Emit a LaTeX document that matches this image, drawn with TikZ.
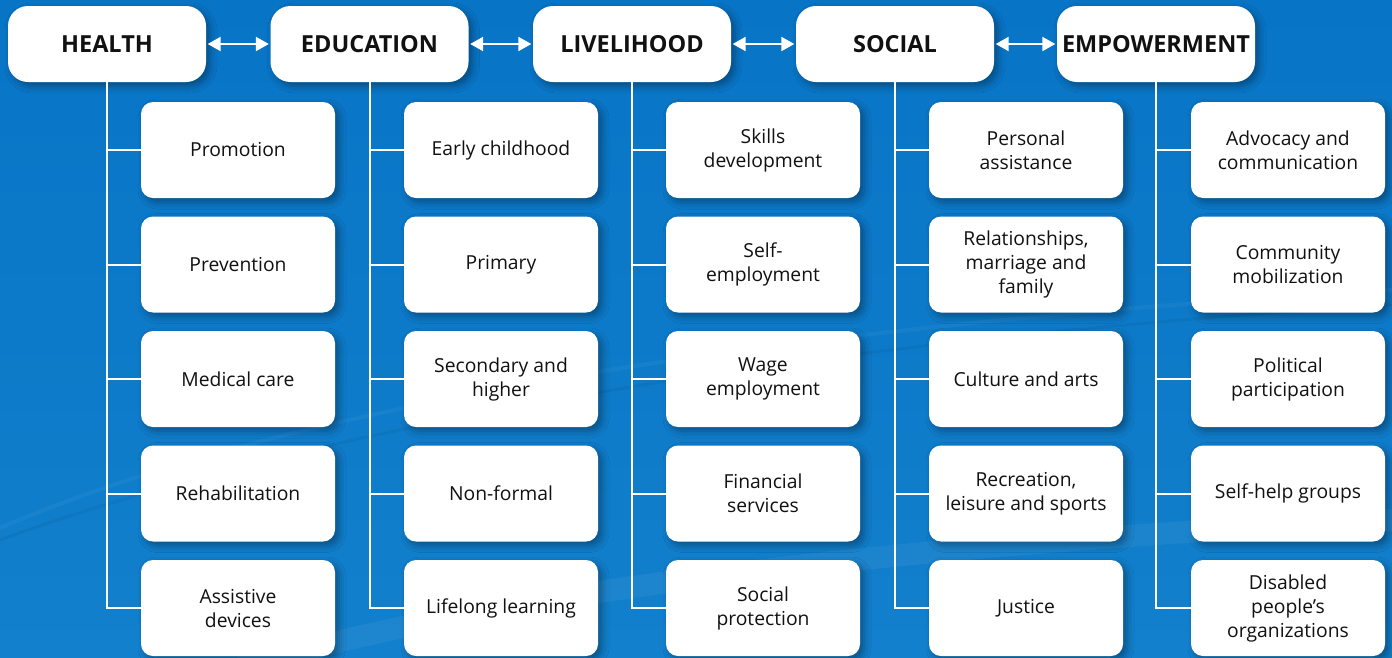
\documentclass[tikz,border=0pt]{standalone}
\usepackage{fontspec}
\setmainfont{Open Sans}
\usetikzlibrary{arrows.meta,shadows.blur}
\definecolor{bgtop}{RGB}{8,116,198}
\definecolor{bgbot}{RGB}{18,128,204}
\definecolor{ink}{RGB}{17,17,17}
\begin{document}
\begin{tikzpicture}[x=1pt,y=-1pt,
  bshadow/.style={blur shadow={shadow xshift=4pt,shadow yshift=-4pt,shadow blur radius=7pt,shadow opacity=35}},
  head/.style={fill=white,rounded corners=20pt,minimum width=198pt,minimum height=76pt,inner sep=0pt,
    font=\fontsize{23.5}{26}\selectfont\bfseries,text=ink,bshadow},
  sub/.style={fill=white,rounded corners=12pt,minimum width=194pt,minimum height=96pt,inner sep=0pt,
    align=center,font=\fontsize{19.3}{24}\selectfont,text=ink,bshadow},
  conn/.style={draw=white,line width=2pt},
  biarrow/.style={draw=white,line width=2.2pt,{Triangle[length=13pt,width=14pt]}-{Triangle[length=13pt,width=14pt]},shorten <=1.5pt,shorten >=1.5pt}]
\useasboundingbox (0,0) rectangle (1392,657);
\shade[top color=bgtop,bottom color=bgbot] (0,0) rectangle (1392,657);
% faint background sweeps
\draw[white,opacity=0.04,line width=4pt] (0,528) .. controls (250,420) and (700,330) .. (1392,290);
\draw[white,opacity=0.05,line width=22pt] (240,668) .. controls (500,590) and (900,545) .. (1392,520);
\draw[black,opacity=0.05,line width=3pt] (0,540) .. controls (300,430) and (800,340) .. (1392,305);

% headers
\node[head] (h1) at (107,44) {HEALTH};
\node[head] (h2) at (369.5,44) {EDUCATION};
\node[head] (h3) at (632,44) {LIVELIHOOD};
\node[head] (h4) at (895,44) {SOCIAL};
\node[head] (h5) at (1156,44) {EMPOWERMENT};

% column 1
\node[sub] (s11) at (238,150) {Promotion};
\node[sub] (s12) at (238,264.5) {Prevention};
\node[sub] (s13) at (238,379) {Medical care};
\node[sub] (s14) at (238,493.5) {Rehabilitation};
\node[sub] (s15) at (238,608) {Assistive\\devices};
% column 2
\node[sub] (s21) at (501,150) {Early childhood};
\node[sub] (s22) at (501,264.5) {Primary};
\node[sub] (s23) at (501,379) {Secondary and\\higher};
\node[sub] (s24) at (501,493.5) {Non-formal};
\node[sub] (s25) at (501,608) {Lifelong learning};
% column 3
\node[sub] (s31) at (763,150) {Skills\\development};
\node[sub] (s32) at (763,264.5) {Self-\\employment};
\node[sub] (s33) at (763,379) {Wage\\employment};
\node[sub] (s34) at (763,493.5) {Financial\\services};
\node[sub] (s35) at (763,608) {Social\\protection};
% column 4
\node[sub] (s41) at (1026,150) {Personal\\assistance};
\node[sub] (s42) at (1026,264.5) {Relationships,\\marriage and\\family};
\node[sub] (s43) at (1026,379) {Culture and arts};
\node[sub] (s44) at (1026,493.5) {Recreation,\\leisure and sports};
\node[sub] (s45) at (1026,608) {Justice};
% column 5
\node[sub] (s51) at (1288,150) {Advocacy and\\communication};
\node[sub] (s52) at (1288,264.5) {Community\\mobilization};
\node[sub] (s53) at (1288,379) {Political\\participation};
\node[sub] (s54) at (1288,493.5) {Self-help groups};
\node[sub] (s55) at (1288,608) {Disabled\\people’s\\organizations};

% connectors
\foreach \c in {1,...,5}{
  \draw[conn] (h\c.south) |- (s\c5.west);
  \foreach \r in {1,...,4}{
    \draw[conn] (h\c.south |- s\c\r.west) -- (s\c\r.west);
  }
}

% arrows between headers
\draw[biarrow] (h1.east) -- (h2.west);
\draw[biarrow] (h2.east) -- (h3.west);
\draw[biarrow] (h3.east) -- (h4.west);
\draw[biarrow] (h4.east) -- (h5.west);
\end{tikzpicture}
\end{document}
